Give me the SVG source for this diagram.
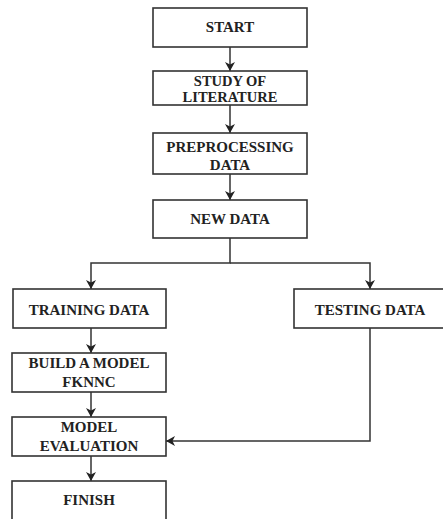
<svg xmlns="http://www.w3.org/2000/svg" width="443" height="519" viewBox="0 0 443 519">
<style>
.box{fill:#fff;stroke:#333;stroke-width:1.6}
.t{font-family:"Liberation Serif","Times New Roman",serif;font-weight:bold;font-size:15px;fill:#222;text-anchor:middle}
.s{font-size:14.5px}
.c{fill:none;stroke:#333;stroke-width:1.5}
</style>
<defs>
<marker id="ah" markerWidth="10" markerHeight="10" refX="9" refY="5" orient="auto" markerUnits="userSpaceOnUse">
<path d="M0,0 L9,5 L0,10 L2.5,5 Z" fill="#222"/>
</marker>
</defs>
<rect width="443" height="519" fill="#fff"/>
<g id="connectors">
<path class="c" d="M230,47 V71" marker-end="url(#ah)"/>
<path class="c" d="M230,105 V133" marker-end="url(#ah)"/>
<path class="c" d="M230,174 V200" marker-end="url(#ah)"/>
<path class="c" d="M230,238 V263 H91 V289" marker-end="url(#ah)"/>
<path class="c" d="M230,263 H370 V289" marker-end="url(#ah)"/>
<path class="c" d="M91,328 V353" marker-end="url(#ah)"/>
<path class="c" d="M91,392 V417" marker-end="url(#ah)"/>
<path class="c" d="M91,456 V481" marker-end="url(#ah)"/>
<path class="c" d="M370,328 V441 H166" marker-end="url(#ah)"/>
</g>
<g id="start"><rect class="box" x="153" y="8" width="154" height="39"/><text class="t" x="230" y="32">START</text></g>
<g id="study"><rect class="box" x="153" y="71" width="154" height="34"/><text class="t s" x="230" y="86">STUDY OF</text><text class="t s" x="230" y="102">LITERATURE</text></g>
<g id="preprocessing"><rect class="box" x="153" y="133" width="154" height="41"/><text class="t" x="230" y="152">PREPROCESSING</text><text class="t" x="230" y="170">DATA</text></g>
<g id="newdata"><rect class="box" x="153" y="200" width="154" height="38"/><text class="t" x="230" y="224">NEW DATA</text></g>
<g id="training"><rect class="box" x="13" y="289" width="153" height="39"/><text class="t" x="89" y="315">TRAINING DATA</text></g>
<g id="testing"><rect class="box" x="294" y="289" width="156" height="39"/><text class="t" x="370" y="315">TESTING DATA</text></g>
<g id="build"><rect class="box" x="12" y="353" width="154" height="39"/><text class="t" x="89" y="368">BUILD A MODEL</text><text class="t" x="89" y="387">FKNNC</text></g>
<g id="evaluation"><rect class="box" x="12" y="417" width="154" height="39"/><text class="t" x="89" y="432">MODEL</text><text class="t" x="89" y="451">EVALUATION</text></g>
<g id="finish"><rect class="box" x="12" y="481" width="154" height="45"/><text class="t" x="89" y="505">FINISH</text></g>
</svg>
